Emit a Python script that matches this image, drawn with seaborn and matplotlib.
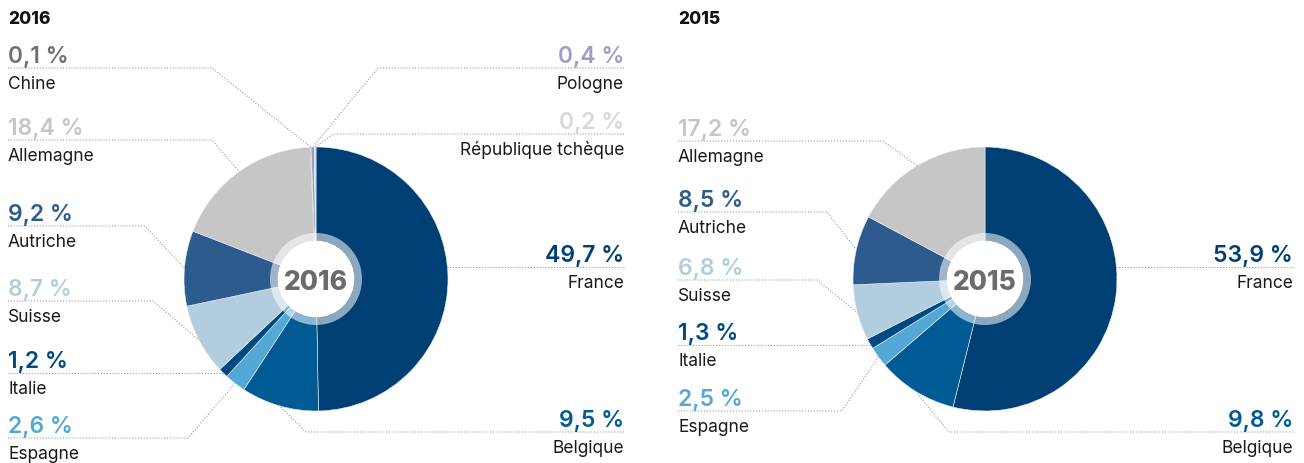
import matplotlib
matplotlib.use("Agg")
import matplotlib.pyplot as plt
import seaborn as sns
import numpy as np
from matplotlib.patches import Wedge, Circle

sns.set_theme(style="white")
plt.rcParams['font.family'] = ['Inter', 'DejaVu Sans']

# ---------------- data ----------------
countries_2016 = ["France", "Belgique", "Espagne", "Italie", "Suisse", "Autriche",
                  "Allemagne", "Chine", "Pologne", "République tchèque"]
values_2016 = [49.7, 9.5, 2.6, 1.2, 8.7, 9.2, 18.4, 0.1, 0.4, 0.2]
labels_2016 = ["49,7 %", "9,5 %", "2,6 %", "1,2 %", "8,7 %", "9,2 %",
               "18,4 %", "0,1 %", "0,4 %", "0,2 %"]

countries_2015 = ["France", "Belgique", "Espagne", "Italie", "Suisse", "Autriche", "Allemagne"]
values_2015 = [53.9, 9.8, 2.5, 1.3, 6.8, 8.5, 17.2]
labels_2015 = ["53,9 %", "9,8 %", "2,5 %", "1,3 %", "6,8 %", "8,5 %", "17,2 %"]

color_map = {
    "France": "#003f73", "Belgique": "#005a94", "Espagne": "#54a8d6",
    "Italie": "#004a84", "Suisse": "#b3cde0", "Autriche": "#2d5b8e",
    "Allemagne": "#c6c6c6", "Chine": "#707070", "Pologne": "#9c9ec9",
    "République tchèque": "#d8d8d8",
}

W, H = 1304, 464

# label layout: side, line y (image px), elbow x (None -> horizontal to edge)
layout_2016 = {
    "Chine": ("L", 69, 212), "Allemagne": ("L", 141, 212), "Autriche": ("L", 227, 145),
    "Suisse": ("L", 302, 153), "Italie": ("L", 374, None), "Espagne": ("L", 439, 188),
    "Pologne": ("R", 69, 378), "République tchèque": ("R", 135, 333),
    "France": ("R", 268, None), "Belgique": ("R", 433, 306),
}
layout_2015 = {
    "Allemagne": ("L", 142, 883), "Autriche": ("L", 213, 827), "Suisse": ("L", 281, 817),
    "Italie": ("L", 346, None), "Espagne": ("L", 412, 842),
    "France": ("R", 268, None), "Belgique": ("R", 433, 949),
}

fig = plt.figure(figsize=(W / 100, H / 100), dpi=100)
ax = fig.add_axes([0, 0, 1, 1])
ax.set_xlim(0, W)
ax.set_ylim(0, H)
ax.set_aspect('equal')
ax.axis('off')


def Y(y):
    return H - y


lead_kw = dict(color="#9a9a9a", lw=0.8, linestyle=(0, (1, 1.6)), zorder=1)


def draw_panel(title, title_x, countries, values, labels, layout, cx, cy, R,
               left_x, right_x):
    cols = sns.color_palette([color_map[c] for c in countries])
    ax.pie(values, colors=cols, startangle=90, counterclock=False, radius=R,
           center=(cx, Y(cy)), wedgeprops=dict(linewidth=0.4, edgecolor="#e8eef4"),
           frame=True)
    # centre ring and disc
    ax.add_patch(Wedge((cx, Y(cy)), 46, 0, 360, width=7.5, facecolor="white",
                       edgecolor="none", alpha=0.55, zorder=5))
    ax.add_patch(Circle((cx, Y(cy)), 38.5, facecolor="white", edgecolor="none", zorder=6))
    ax.text(cx, Y(cy), title, ha="center", va="center_baseline", fontsize=19,
            fontweight="heavy", color="#6b6b6b", zorder=7)
    ax.text(title_x, Y(18), title, ha="left", va="center_baseline", fontsize=12.5,
            fontweight="heavy", color="#111111")

    total = float(sum(values))
    cum = 0.0
    for c, v, lab in zip(countries, values, labels):
        a0 = cum / total * 360.0
        a1 = (cum + v) / total * 360.0
        cum += v
        if c not in layout:
            continue
        side, ly, ex = layout[c]
        mid = np.deg2rad((a0 + a1) / 2)
        if ex is None:
            dy = ly - cy
            dx = np.sqrt(max(R * R - dy * dy, 0))
            ax_pt = (cx + dx if side == "R" else cx - dx, ly)
            ex = ax_pt[0]
        else:
            ax_pt = (cx + R * np.sin(mid), cy - R * np.cos(mid))
        col = color_map[c]
        if side == "L":
            x0, ha = left_x, "left"
        else:
            x0, ha = right_x, "right"
        ax.plot([x0, ex, ax_pt[0]], [Y(ly), Y(ly), Y(ax_pt[1])], **lead_kw)
        ax.text(x0, Y(ly - 6), lab, ha=ha, va="baseline", fontsize=16.5,
                fontweight="semibold", color=col)
        ax.text(x0, Y(ly + 20), c, ha=ha, va="baseline", fontsize=12.5,
                color="#1a1a1a")


draw_panel("2016", 8, countries_2016, values_2016, labels_2016, layout_2016,
           316, 280, 132, 8, 624)
draw_panel("2015", 678, countries_2015, values_2015, labels_2015, layout_2015,
           985, 280, 132, 678, 1293)

ax.set_xlim(0, W)
ax.set_ylim(0, H)
ax.axis('off')
fig.savefig("out.png", dpi=100, facecolor="white")
